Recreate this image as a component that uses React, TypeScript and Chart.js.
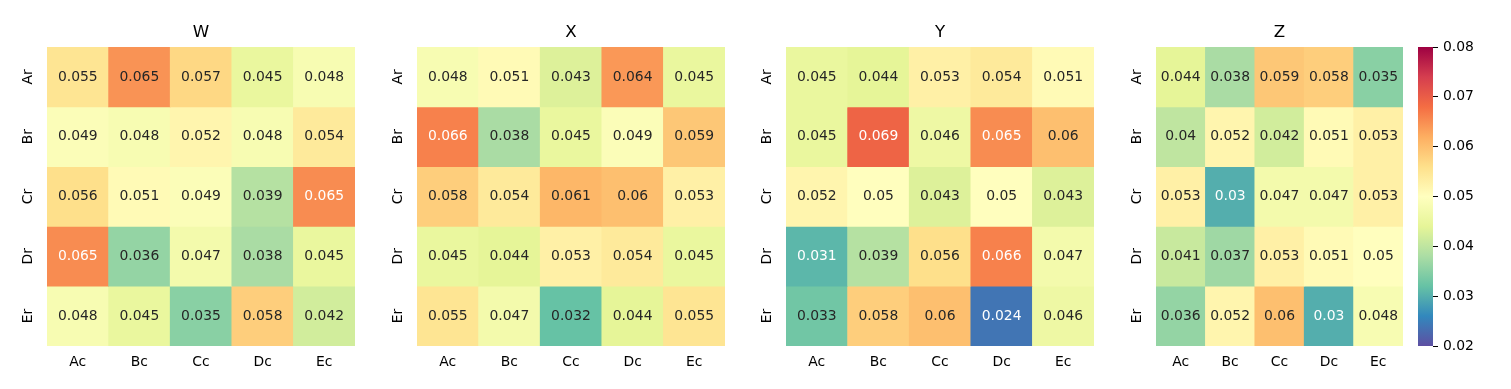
import React, { useEffect, useRef } from 'react';
import { Chart, registerables } from 'chart.js';

Chart.register(...registerables);
Chart.defaults.font.family = "'DejaVu Sans', sans-serif";
Chart.defaults.color = '#000';

const columns = ['Ac', 'Bc', 'Cc', 'Dc', 'Ec'];
const rows = ['Ar', 'Br', 'Cr', 'Dr', 'Er'];

const valuesW = [
  [0.055, 0.06452, 0.057, 0.045, 0.048],
  [0.049, 0.048, 0.052, 0.048, 0.054],
  [0.056, 0.051, 0.049, 0.039, 0.065],
  [0.065, 0.036, 0.047, 0.038, 0.045],
  [0.048, 0.045, 0.035, 0.058, 0.042],
];
const valuesX = [
  [0.048, 0.051, 0.043, 0.064, 0.045],
  [0.066, 0.038, 0.045, 0.049, 0.059],
  [0.058, 0.054, 0.061, 0.06, 0.053],
  [0.045, 0.044, 0.053, 0.054, 0.045],
  [0.055, 0.047, 0.032, 0.044, 0.055],
];
const valuesY = [
  [0.045, 0.044, 0.053, 0.054, 0.051],
  [0.045, 0.069, 0.046, 0.065, 0.06],
  [0.052, 0.05, 0.043, 0.05, 0.043],
  [0.031, 0.039, 0.056, 0.066, 0.047],
  [0.033, 0.058, 0.06, 0.024, 0.046],
];
const valuesZ = [
  [0.044, 0.038, 0.059, 0.058, 0.035],
  [0.04, 0.052, 0.042, 0.051, 0.053],
  [0.053, 0.03, 0.047, 0.047, 0.053],
  [0.041, 0.037, 0.053, 0.051, 0.05],
  [0.036, 0.052, 0.06, 0.03, 0.048],
];
const colorbarTicks = [0.02, 0.03, 0.04, 0.05, 0.06, 0.07, 0.08];
const vmin = 0.02;
const vmax = 0.08;

// Spectral_r colormap nodes
const spectralR = [
  '#5e4fa2', '#3288bd', '#66c2a5', '#abdda4', '#e6f598', '#ffffbf',
  '#fee08b', '#fdae61', '#f46d43', '#d53e4f', '#9e0142',
];

function hexToRgb(h: string): number[] {
  return [parseInt(h.slice(1, 3), 16), parseInt(h.slice(3, 5), 16), parseInt(h.slice(5, 7), 16)];
}

function cmapRgb(v: number): number[] {
  let t = (v - vmin) / (vmax - vmin);
  t = Math.max(0, Math.min(1, t));
  let idx = Math.floor(t * 256);
  if (idx > 255) idx = 255;
  const p = (idx / 255) * (spectralR.length - 1);
  const i = Math.min(Math.floor(p), spectralR.length - 2);
  const f = p - i;
  const a = hexToRgb(spectralR[i]);
  const b = hexToRgb(spectralR[i + 1]);
  return a.map((c, k) => c + (b[k] - c) * f);
}

function colorFor(v: number): string {
  const [r, g, b] = cmapRgb(v);
  return `rgb(${Math.round(r)},${Math.round(g)},${Math.round(b)})`;
}

function textColorFor(v: number): string {
  const rgb = cmapRgb(v).map((c) => {
    const x = c / 255;
    return x <= 0.03928 ? x / 12.92 : Math.pow((x + 0.055) / 1.055, 2.4);
  });
  const lum = 0.2126 * rgb[0] + 0.7152 * rgb[1] + 0.0722 * rgb[2];
  return lum > 0.408 ? '#262626' : '#ffffff';
}

function fmt(v: number): string {
  return String(Number(v.toPrecision(2)));
}

const FONT = 13.9;
const TITLE_FONT = 16.67;

const cellTextPlugin = {
  id: 'cellText',
  afterDatasetsDraw(chart: any) {
    const ctx = chart.ctx;
    ctx.save();
    ctx.font = `${FONT}px 'DejaVu Sans', sans-serif`;
    ctx.textAlign = 'center';
    ctx.textBaseline = 'middle';
    chart.data.datasets.forEach((ds: any, di: number) => {
      const meta = chart.getDatasetMeta(di);
      meta.data.forEach((el: any, ci: number) => {
        const v = ds.cellValues[ci];
        const { x, y } = el.getCenterPoint();
        ctx.fillStyle = textColorFor(v);
        ctx.fillText(fmt(v), x, y);
      });
    });
    ctx.restore();
  },
};

const AREA_TOP = 47;
const AREA_BOTTOM = 346;
const H = 389;
const LEFT_AXIS = 47;
const RIGHT_PAD = 8;

function Heatmap({ title, values, areaLeft, areaWidth }: { title: string; values: number[][]; areaLeft: number; areaWidth: number }) {
  const ref = useRef<HTMLCanvasElement | null>(null);
  const width = LEFT_AXIS + areaWidth + RIGHT_PAD;
  useEffect(() => {
    if (!ref.current) return;
    const titleLine = TITLE_FONT * 1.2;
    const padTop = 23;
    const padBottom = AREA_TOP - padTop - titleLine;
    const chart = new Chart(ref.current, {
      type: 'bar',
      data: {
        labels: columns,
        datasets: rows.map((r, ri) => ({
          label: r,
          data: columns.map(() => [ri, ri + 1]),
          cellValues: values[ri],
          backgroundColor: values[ri].map(colorFor),
          borderWidth: 0,
          barPercentage: 1,
          categoryPercentage: 1,
          grouped: false,
        })) as any,
      },
      options: {
        animation: false,
        responsive: false,
        maintainAspectRatio: false,
        events: [],
        layout: { padding: { left: 0, right: RIGHT_PAD, top: 0, bottom: 0 } },
        plugins: {
          legend: { display: false },
          tooltip: { enabled: false },
          title: {
            display: true,
            fullSize: false,
            text: title,
            color: '#000',
            font: { size: TITLE_FONT, weight: 'normal' as any },
            padding: { top: padTop, bottom: padBottom },
          },
        },
        scales: {
          x: {
            type: 'category',
            offset: true,
            grid: { display: false, drawTicks: false },
            border: { display: false },
            ticks: { padding: 7.7, font: { size: FONT }, color: '#000', minRotation: 0, maxRotation: 0 },
            afterFit: (s: any) => { s.height = H - AREA_BOTTOM; },
          },
          y: {
            type: 'linear',
            min: 0,
            max: rows.length,
            reverse: true,
            grid: { display: false, drawTicks: false },
            border: { display: false },
            afterBuildTicks: (s: any) => { s.ticks = rows.map((_, i) => ({ value: i + 0.5 })); },
            ticks: {
              callback: (v: any) => rows[Math.floor(Number(v))],
              minRotation: 90,
              maxRotation: 90,
              crossAlign: 'center',
              padding: 10.5,
              font: { size: FONT },
              color: '#000',
            },
            afterFit: (s: any) => { s.width = LEFT_AXIS; },
          },
        },
      } as any,
      plugins: [cellTextPlugin],
    });
    return () => chart.destroy();
  }, [title, values, areaWidth]);
  return (
    <div style={{ position: 'absolute', left: areaLeft - LEFT_AXIS, top: 0, width, height: H }}>
      <canvas ref={ref} width={width} height={H} style={{ width, height: H, display: 'block' }} />
    </div>
  );
}

function Colorbar({ left, barWidth }: { left: number; barWidth: number }) {
  const ref = useRef<HTMLCanvasElement | null>(null);
  const axisW = 60;
  const width = barWidth + axisW;
  useEffect(() => {
    if (!ref.current) return;
    const chart = new Chart(ref.current, {
      type: 'bar',
      data: {
        labels: [''],
        datasets: [
          {
            data: [[vmin, vmax]],
            backgroundColor: (c: any) => {
              const ch = c.chart;
              const ys = ch.scales.y;
              if (!ys || !ch.chartArea) return 'transparent';
              const g = ch.ctx.createLinearGradient(0, ys.getPixelForValue(vmin), 0, ys.getPixelForValue(vmax));
              spectralR.forEach((col, i) => g.addColorStop(i / (spectralR.length - 1), col));
              return g;
            },
            borderWidth: 0,
            barPercentage: 1,
            categoryPercentage: 1,
          },
        ] as any,
      },
      options: {
        animation: false,
        responsive: false,
        maintainAspectRatio: false,
        events: [],
        layout: { padding: { left: 0, right: 0, top: AREA_TOP, bottom: H - AREA_BOTTOM } },
        plugins: { legend: { display: false }, tooltip: { enabled: false }, title: { display: false } },
        scales: {
          x: { type: 'category', display: false },
          y: {
            type: 'linear',
            position: 'right',
            min: vmin,
            max: vmax,
            afterBuildTicks: (s: any) => { s.ticks = colorbarTicks.map((v) => ({ value: v })); },
            ticks: { callback: (v: any) => Number(v).toFixed(2), padding: 5, font: { size: FONT }, color: '#000' },
            grid: { drawOnChartArea: false, drawTicks: true, tickLength: 5, tickColor: '#000', tickWidth: 1 },
            border: { display: false },
            afterFit: (s: any) => { s.width = axisW; },
          },
        },
      } as any,
    });
    return () => chart.destroy();
  }, []);
  return (
    <div style={{ position: 'absolute', left, top: 0, width, height: H }}>
      <canvas ref={ref} width={width} height={H} style={{ width, height: H, display: 'block' }} />
    </div>
  );
}

export default function App() {
  return (
    <div style={{ position: 'absolute', left: 0, top: 0, width: 1511, height: H, background: '#fff', overflow: 'hidden' }}>
      <Heatmap title="W" values={valuesW} areaLeft={47} areaWidth={308} />
      <Heatmap title="X" values={valuesX} areaLeft={417} areaWidth={308} />
      <Heatmap title="Y" values={valuesY} areaLeft={786} areaWidth={308} />
      <Heatmap title="Z" values={valuesZ} areaLeft={1156} areaWidth={247} />
      <Colorbar left={1418} barWidth={15} />
    </div>
  );
}
